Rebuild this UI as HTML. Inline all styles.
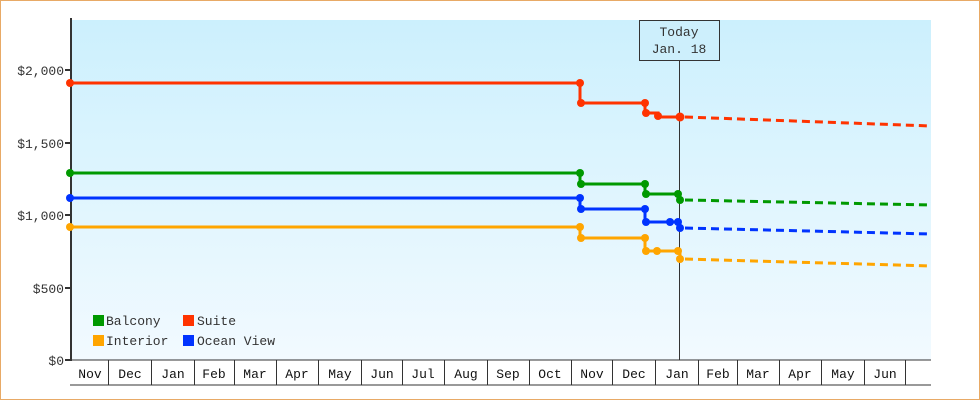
<!DOCTYPE html>
<html><head><style>
body{margin:0;background:#fff}
svg{display:block;font-family:"Liberation Mono","DejaVu Sans Mono",monospace}
</style></head><body>
<svg width="980" height="400" viewBox="0 0 980 400" xmlns="http://www.w3.org/2000/svg">
<defs><linearGradient id="bg" x1="0" y1="0" x2="0" y2="1"><stop offset="0" stop-color="#ccf0fd"/><stop offset="1" stop-color="#f2faff"/></linearGradient></defs>
<rect x="0.5" y="0.5" width="979" height="399" fill="#fff" stroke="#e8aa66"/>
<rect x="71" y="20" width="860" height="340" fill="url(#bg)"/>
<g font-size="13" fill="#333" text-anchor="end">
<text x="64" y="75">$2,000</text><text x="64" y="148">$1,500</text><text x="64" y="220">$1,000</text><text x="64" y="293">$500</text><text x="64" y="365">$0</text>
</g>
<g stroke="#333" stroke-width="2"><line x1="65" y1="70" x2="71" y2="70"/><line x1="65" y1="143" x2="71" y2="143"/><line x1="65" y1="215" x2="71" y2="215"/><line x1="65" y1="288" x2="71" y2="288"/><line x1="65" y1="360" x2="71" y2="360"/></g>
<line x1="71" y1="18" x2="71" y2="361" stroke="#333" stroke-width="2"/>
<line x1="71" y1="360" x2="931" y2="360" stroke="#333" stroke-width="1"/>
<line x1="70" y1="385" x2="931" y2="385" stroke="#333"/>
<g stroke="#333" stroke-width="1">
<line x1="108.5" y1="360" x2="108.5" y2="385"/><line x1="151.5" y1="360" x2="151.5" y2="385"/><line x1="194.5" y1="360" x2="194.5" y2="385"/><line x1="234.5" y1="360" x2="234.5" y2="385"/><line x1="276.5" y1="360" x2="276.5" y2="385"/><line x1="318.5" y1="360" x2="318.5" y2="385"/><line x1="361.5" y1="360" x2="361.5" y2="385"/><line x1="402.5" y1="360" x2="402.5" y2="385"/><line x1="444.5" y1="360" x2="444.5" y2="385"/><line x1="487.5" y1="360" x2="487.5" y2="385"/><line x1="529.5" y1="360" x2="529.5" y2="385"/><line x1="571.5" y1="360" x2="571.5" y2="385"/><line x1="612.5" y1="360" x2="612.5" y2="385"/><line x1="655.5" y1="360" x2="655.5" y2="385"/><line x1="698.5" y1="360" x2="698.5" y2="385"/><line x1="737.5" y1="360" x2="737.5" y2="385"/><line x1="779.5" y1="360" x2="779.5" y2="385"/><line x1="821.5" y1="360" x2="821.5" y2="385"/><line x1="864.5" y1="360" x2="864.5" y2="385"/><line x1="905.5" y1="360" x2="905.5" y2="385"/>
</g>
<g font-size="13" fill="#111" text-anchor="middle">
<text x="90" y="378">Nov</text><text x="130" y="378">Dec</text><text x="173" y="378">Jan</text><text x="214" y="378">Feb</text><text x="255" y="378">Mar</text><text x="297" y="378">Apr</text><text x="340" y="378">May</text><text x="382" y="378">Jun</text><text x="423" y="378">Jul</text><text x="466" y="378">Aug</text><text x="508" y="378">Sep</text><text x="550" y="378">Oct</text><text x="592" y="378">Nov</text><text x="634" y="378">Dec</text><text x="677" y="378">Jan</text><text x="718" y="378">Feb</text><text x="758" y="378">Mar</text><text x="800" y="378">Apr</text><text x="843" y="378">May</text><text x="885" y="378">Jun</text>
</g>
<line x1="679.5" y1="60" x2="679.5" y2="360" stroke="#333"/>
<rect x="639.5" y="20.5" width="80" height="40" fill="#cdeffc" stroke="#333"/>
<text x="679" y="36" font-size="13" fill="#333" text-anchor="middle">Today</text>
<text x="679" y="53" font-size="13" fill="#333" text-anchor="middle">Jan. 18</text>
<g fill="none" stroke-width="3">
<polyline stroke="#ff3300" points="70,83 580,83 580,103 645,103 645,113 658,113 658,117 680,117"/>
<polyline stroke="#009900" points="70,173 580,173 580,184 645,184 645,194 680,194 680,200"/>
<polyline stroke="#0033ff" points="70,198 580,198 580,209 645,209 645,222 680,222 680,228"/>
<polyline stroke="#ffa500" points="70,227 580,227 580,238 645,238 645,251 680,251 680,259"/>
<g stroke-dasharray="8,5">
<polyline stroke="#ff3300" points="685,117 931,126"/>
<polyline stroke="#009900" points="685,200 931,205"/>
<polyline stroke="#0033ff" points="685,228 931,234"/>
<polyline stroke="#ffa500" points="685,259 931,266"/>
</g></g>
<g>
<g fill="#ff3300"><circle cx="70" cy="83" r="4"/><circle cx="580" cy="83" r="4"/><circle cx="581" cy="103" r="4"/><circle cx="645" cy="103" r="4"/><circle cx="646" cy="113" r="4"/><circle cx="658" cy="116" r="4"/><circle cx="680" cy="117" r="4.5"/></g>
<g fill="#009900"><circle cx="70" cy="173" r="4"/><circle cx="580" cy="173" r="4"/><circle cx="581" cy="184" r="4"/><circle cx="645" cy="184" r="4"/><circle cx="646" cy="194" r="4"/><circle cx="678" cy="194" r="4"/><circle cx="680" cy="200" r="4"/></g>
<g fill="#0033ff"><circle cx="70" cy="198" r="4"/><circle cx="580" cy="198" r="4"/><circle cx="581" cy="209" r="4"/><circle cx="645" cy="209" r="4"/><circle cx="646" cy="222" r="4"/><circle cx="670" cy="222" r="4"/><circle cx="678" cy="222" r="4"/><circle cx="680" cy="228" r="4"/></g>
<g fill="#ffa500"><circle cx="70" cy="227" r="4"/><circle cx="580" cy="227" r="4"/><circle cx="581" cy="238" r="4"/><circle cx="645" cy="238" r="4"/><circle cx="646" cy="251" r="4"/><circle cx="657" cy="251" r="4"/><circle cx="678" cy="251" r="4"/><circle cx="680" cy="259" r="4"/></g>
</g>
<rect x="93" y="315" width="11" height="11" fill="#009900"/>
<rect x="93" y="335" width="11" height="11" fill="#ffa500"/>
<rect x="183" y="315" width="11" height="11" fill="#ff3300"/>
<rect x="183" y="335" width="11" height="11" fill="#0033ff"/>
<g font-size="13" fill="#333">
<text x="106" y="325">Balcony</text><text x="106" y="345">Interior</text>
<text x="197" y="325">Suite</text><text x="197" y="345">Ocean View</text>
</g>
</svg>
</body></html>
